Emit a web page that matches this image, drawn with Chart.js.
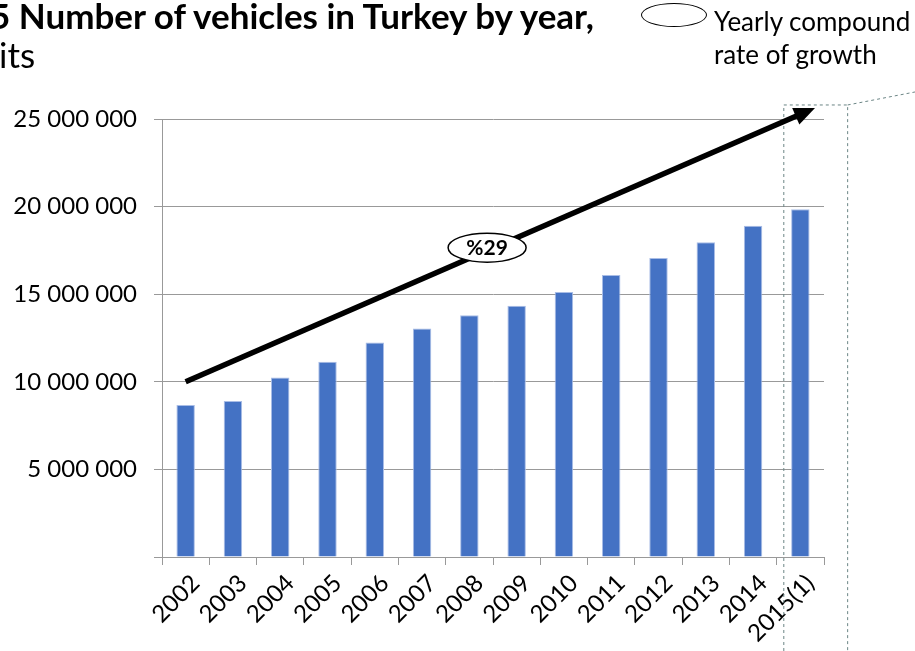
<!DOCTYPE html>
<html><head><meta charset="utf-8">
<script src="https://cdn.jsdelivr.net/npm/chart.js@4.4.1/dist/chart.umd.min.js"></script>
<style>
html,body{margin:0;padding:0;background:#fff;overflow:hidden}
#wrap{position:relative;width:915px;height:651px}
#c{position:absolute;left:0;top:0}
.t1{position:absolute;left:-10px;top:-6px;font:bold 35px Lato,sans-serif;white-space:nowrap;color:#000}
.t2{position:absolute;left:-1px;top:33px;font:35px Lato,sans-serif;white-space:nowrap;color:#000}
.leg{position:absolute;left:714px;top:5px;font:26px/33px Lato,sans-serif;color:#000;white-space:nowrap}
.ell{position:absolute;left:641px;top:3px;width:64px;height:22px;border:1.5px solid #000;border-radius:50%;background:#fff}
</style></head>
<body><div id="wrap">
<canvas id="c" width="915" height="651"></canvas>
<div class="t1">5 Number of vehicles in Turkey by year,</div>
<div class="t2">its</div>
<div class="ell"></div>
<div class="leg">Yearly compound<br>rate of growth</div>
</div>
<script>
const years = ['2002','2003','2004','2005','2006','2007','2008','2009','2010','2011','2012','2013','2014','2015(1)'];
const vehicles = [8670000, 8900000, 10250000, 11150000, 12240000, 13040000, 13800000, 14340000, 15130000, 16100000, 17060000, 17970000, 18900000, 19850000];
const yTickValues = [0, 5000000, 10000000, 15000000, 20000000, 25000000];
const growthLabel = '%29';
// arrow annotation in data space: [category index, value]
const arrowFrom = [0, 10000000];
const arrowTo = [13.31, 25630000];
const highlightBox = [12.65, 14.0, 25800000];

function fmt(v){ return v === 0 ? '' : String(v).replace(/\B(?=(\d{3})+(?!\d))/g, ' '); }

const annot = {
  id: 'annot',
  afterDraw(chart){
    const ctx = chart.ctx, xs = chart.scales.x, ys = chart.scales.y;
    ctx.save();
    const bl = xs.getPixelForValue(highlightBox[0]);
    const br = xs.getPixelForValue(highlightBox[1]);
    const bt = ys.getPixelForValue(highlightBox[2]);
    ctx.strokeStyle = '#6b8585';
    ctx.lineWidth = 1;
    ctx.setLineDash([3,3]);
    ctx.beginPath();
    ctx.moveTo(bl, chart.height); ctx.lineTo(bl, bt); ctx.lineTo(br, bt); ctx.lineTo(br, chart.height);
    ctx.moveTo(br, bt); ctx.lineTo(chart.width, bt - 13);
    ctx.stroke();
    ctx.setLineDash([]);
    const x1 = xs.getPixelForValue(arrowFrom[0]), y1 = ys.getPixelForValue(arrowFrom[1]);
    const x2 = xs.getPixelForValue(arrowTo[0]), y2 = ys.getPixelForValue(arrowTo[1]);
    const ang = Math.atan2(y2 - y1, x2 - x1);
    const hl = 21, hw = 9;
    const bx = x2 - hl * Math.cos(ang), by = y2 - hl * Math.sin(ang);
    ctx.strokeStyle = '#000'; ctx.fillStyle = '#000';
    ctx.lineWidth = 5.5; ctx.lineCap = 'butt';
    ctx.beginPath(); ctx.moveTo(x1, y1); ctx.lineTo(bx + 2*Math.cos(ang), by + 2*Math.sin(ang)); ctx.stroke();
    ctx.beginPath();
    ctx.moveTo(x2, y2);
    ctx.lineTo(bx + hw * Math.sin(ang), by - hw * Math.cos(ang));
    ctx.lineTo(bx - hw * Math.sin(ang), by + hw * Math.cos(ang));
    ctx.closePath(); ctx.fill();
    const t = 0.479;
    const ex = x1 + (x2 - x1) * t, ey = y1 + (y2 - y1) * t - 3;
    ctx.beginPath();
    ctx.ellipse(ex, ey, 39, 14.5, 0, 0, Math.PI * 2);
    ctx.fillStyle = '#fff'; ctx.fill();
    ctx.lineWidth = 1.5; ctx.strokeStyle = '#000'; ctx.stroke();
    ctx.fillStyle = '#000';
    ctx.font = 'bold 21px Lato, sans-serif';
    ctx.textAlign = 'center'; ctx.textBaseline = 'middle';
    ctx.fillText(growthLabel, ex, ey + 1);
    ctx.restore();
  }
};

new Chart(document.getElementById('c'), {
  type: 'bar',
  data: {
    labels: years,
    datasets: [{
      data: vehicles,
      backgroundColor: '#4472C4',
      borderColor: '#a9bde6',
      borderWidth: 1,
      categoryPercentage: 1,
      barPercentage: 0.39
    }]
  },
  options: {
    responsive: false,
    animation: false,
    devicePixelRatio: 1,
    layout: { padding: { top: 119, right: 91, left: 0, bottom: 0 } },
    plugins: { legend: { display: false }, tooltip: { enabled: false } },
    scales: {
      x: {
        afterFit(s){ s.height = 94; },
        grid: { drawOnChartArea: false, color: '#999', tickLength: 8, offset: true },
        border: { color: '#999', width: 1 },
        ticks: { color: '#000', font: { family: 'Lato', size: 24 }, minRotation: 45, maxRotation: 45, labelOffset: 10, padding: 4, autoSkip: false }
      },
      y: {
        min: 0, max: 25000000,
        afterFit(s){ s.width = 162; },
        afterBuildTicks(s){ s.ticks = yTickValues.map(v => ({ value: v })); },
        grid: { color: '#999', tickLength: 8 },
        border: { color: '#999', width: 1 },
        ticks: { color: '#000', font: { family: 'Lato', size: 24 }, padding: 17, callback: v => fmt(v) }
      }
    }
  },
  plugins: [annot]
});
</script>
</body></html>
